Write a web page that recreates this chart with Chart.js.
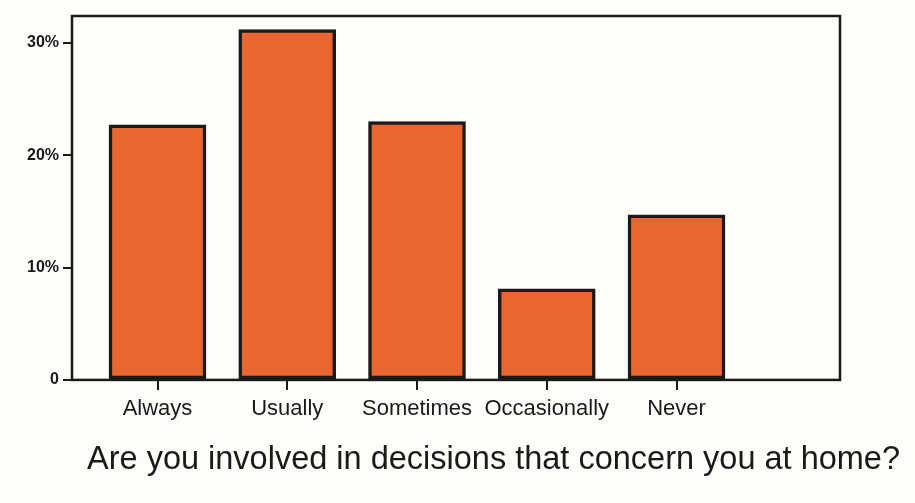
<!DOCTYPE html>
<html>
<head>
<meta charset="utf-8">
<script src="https://cdn.jsdelivr.net/npm/chart.js@4"></script>
<style>
  html, body { margin: 0; padding: 0; background: #fdfdfb; }
  #wrap { width: 915px; height: 503px; }
</style>
</head>
<body>
<div id="wrap"><canvas id="barchart" width="915" height="503"></canvas></div>
<script>
const categories = ["Always", "Usually", "Sometimes", "Occasionally", "Never"];
const percentages = [22.7, 31.2, 23.0, 8.1, 14.7];
const yTicks = [0, 10, 20, 30];
const question = "Are you involved in decisions that concern you at home?";

const ink = "#1c1a19";

// closes the box round the plot area
const frame = {
  id: "frame",
  afterDatasetsDraw(chart) {
    const a = chart.chartArea;
    const ctx = chart.ctx;
    ctx.save();
    ctx.strokeStyle = ink;
    ctx.lineWidth = 2.5;
    ctx.strokeRect(a.left, a.top, a.right - a.left, a.bottom - a.top);
    ctx.restore();
  },
};

const canvas = document.getElementById("barchart").getContext("2d");

new Chart(canvas, {
  type: "bar",
  data: {
    datasets: [
      {
        data: percentages.map((value, i) => ({ x: i, y: value })),
        backgroundColor: "#ea6630",
        borderColor: ink,
        borderWidth: 3.5,
        borderSkipped: false,
        barThickness: 97,
      },
    ],
  },
  options: {
    responsive: false,
    animation: false,
    layout: { padding: { top: 16, right: 15, bottom: 25, left: 0 } },
    plugins: {
      legend: { display: false },
      tooltip: { enabled: false },
      title: {
        display: true,
        position: "bottom",
        align: "end",
        text: question,
        color: ink,
        font: { family: "Liberation Sans", size: 32.5, weight: "normal", lineHeight: 1.11 },
        padding: { top: 20, bottom: 0 },
      },
    },
    scales: {
      x: {
        type: "linear",
        offset: false,
        min: -0.659,
        max: 5.26,
        afterBuildTicks(scale) {
          scale.ticks = categories.map((c, i) => ({ value: i }));
        },
        afterFit(scale) {
          scale.height = 42;
        },
        ticks: {
          autoSkip: false,
          maxRotation: 0,
          color: ink,
          font: { family: "Liberation Sans", size: 22 },
          padding: 6,
          callback: (value) => categories[value],
        },
        grid: { offset: false, drawOnChartArea: false, tickLength: 10, color: ink, lineWidth: 2 },
        border: { display: false },
      },
      y: {
        min: 0,
        max: 32.4,
        afterBuildTicks(scale) {
          scale.ticks = yTicks.map((v) => ({ value: v }));
        },
        afterFit(scale) {
          scale.width = 72;
        },
        ticks: {
          color: ink,
          font: { family: "Liberation Sans", size: 16, weight: "bold" },
          padding: 4,
          callback: (value) => (value === 0 ? "0" : value + "%"),
        },
        grid: { drawOnChartArea: false, tickLength: 9, color: ink, lineWidth: 2 },
        border: { display: false },
      },
      // empty strip on the right of the box
      y2: {
        position: "right",
        afterFit(scale) {
          scale.width = 60;
        },
        ticks: { display: false },
        grid: { display: false },
        border: { display: false },
      },
    },
  },
  plugins: [frame],
});
</script>
</body>
</html>
